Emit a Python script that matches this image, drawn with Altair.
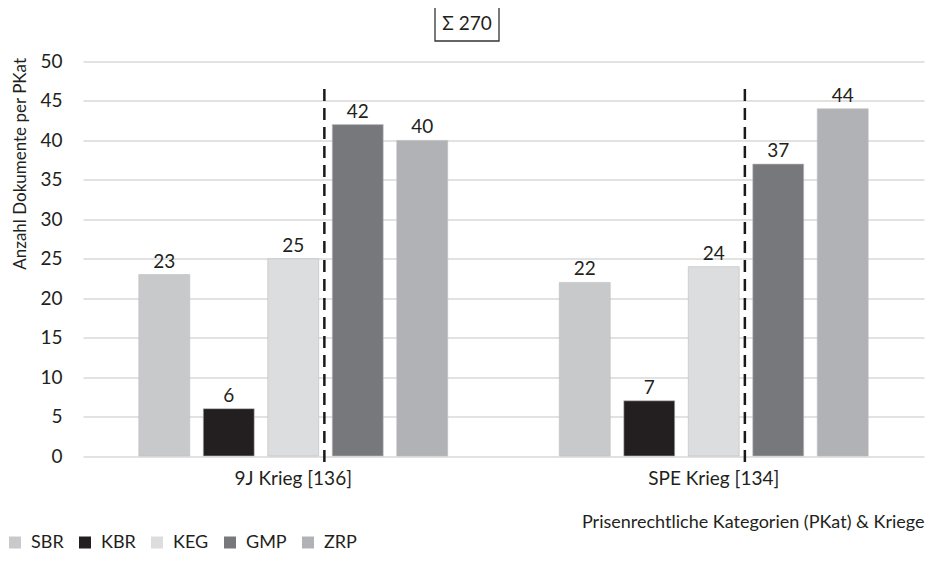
import altair as alt
import pandas as pd

groups = ["9J Krieg", "SPE Krieg"]
series = ["SBR", "KBR", "KEG", "GMP", "ZRP"]
colors = ["#c8c9cb", "#231f20", "#dcdddf", "#77787c", "#b1b2b5"]
values_9j = [23, 6, 25, 42, 40]
values_spe = [22, 7, 24, 37, 44]
y_ticks = [0, 5, 10, 15, 20, 25, 30, 35, 40, 45, 50]

totals = [sum(values_9j), sum(values_spe)]
group_labels = [f"{g} [{t}]" for g, t in zip(groups, totals)]
grand_total = sum(totals)

rows = []
for gl, vals in zip(group_labels, [values_9j, values_spe]):
    for s, v in zip(series, vals):
        rows.append({"group": gl, "series": s, "value": v})
df = pd.DataFrame(rows)

FONT = "Lato"
FS = 19
TXT = "#231f20"

x_axis = alt.Axis(title="Prisenrechtliche Kategorien (PKat) & Kriege",
                  labelAngle=0, ticks=False, domain=False,
                  labelPadding=13, labelFontSize=FS, labelFont=FONT,
                  labelColor=TXT, titleFont=FONT, titleFontSize=18,
                  titleFontWeight="normal", titleColor=TXT,
                  titleAnchor="end", titleAlign="right",
                  titleX=841, titleY=71, titleBaseline="alphabetic")
y_axis = alt.Axis(title="Anzahl Dokumente per PKat", values=y_ticks,
                  labelOverlap=False,
                  ticks=False, domain=False, grid=True,
                  gridColor="#d9d9d9", gridWidth=1.6,
                  labelPadding=21, labelFontSize=FS, labelFont=FONT,
                  labelColor=TXT, titleFont=FONT, titleFontSize=17,
                  titleFontWeight="normal", titleColor=TXT,
                  titleAngle=270, titleX=-63, titleY=-4,
                  titleAlign="right", titleBaseline="middle")
y_scale = alt.Scale(domain=[0, 50], nice=False)
x_scale = alt.Scale(paddingInner=0, paddingOuter=0)

x_enc = alt.X("group:N", sort=group_labels, scale=x_scale, axis=x_axis)
xoff = alt.XOffset("series:N", sort=series,
                   scale=alt.Scale(paddingInner=0.21, paddingOuter=0.865))
y_enc = alt.Y("value:Q", scale=y_scale, axis=y_axis)

color_enc = alt.Color("series:N", sort=series,
                      scale=alt.Scale(domain=series, range=colors),
                      legend=alt.Legend(title=None, orient="none", direction="horizontal",
                                        legendX=-77, legendY=472,
                                        symbolType="square", symbolSize=144,
                                        symbolStrokeWidth=0, symbolOpacity=1,
                                        labelFont=FONT, labelFontSize=18,
                                        labelColor=TXT, labelOffset=7,
                                        columnPadding=12))

base = alt.Chart(df)

bars = base.mark_bar(stroke="#bdbdbd", strokeWidth=0.6).encode(
    x=x_enc, xOffset=xoff, y=y_enc, color=color_enc
)

labels = base.mark_text(font=FONT, fontSize=FS, color=TXT,
                        baseline="alphabetic", dy=-7).encode(
    x=x_enc, xOffset=xoff, y=y_enc, text="value:Q",
)

rule_df = pd.DataFrame({"group": group_labels})
rules = alt.Chart(rule_df).mark_rule(color="#1a1a1a", strokeWidth=2.5,
                                     strokeDash=[12, 7]).encode(
    x=alt.X("group:N", sort=group_labels, scale=x_scale, axis=x_axis,
            bandPosition=0.574),
    y=alt.YDatum(46.5, type="quantitative", scale=y_scale, axis=y_axis),
    y2=alt.Y2Datum(-1.2),
)

box = alt.Chart(pd.DataFrame({"t": [f"Σ {grand_total}"]})).mark_rect(
    fill="white", stroke="#333333", strokeWidth=1.3
).encode(x=alt.value(352), x2=alt.value(416), y=alt.value(-55.5), y2=alt.value(-20.5))

box_text = alt.Chart(pd.DataFrame({"t": [f"Σ {grand_total}"]})).mark_text(
    font=FONT, fontSize=FS, color=TXT, baseline="middle", align="center"
).encode(x=alt.value(384), y=alt.value(-38), text="t:N")

chart = alt.layer(bars, labels, rules, box, box_text).properties(
    width=841, height=394.5,
    autosize=alt.AutoSizeParams(type="none"),
    padding={"left": 75, "top": 53.5, "right": 2, "bottom": 97},
    background="white",
).configure_view(stroke=None)

chart.save("out.html", embed_options={"renderer": "svg", "actions": False})
